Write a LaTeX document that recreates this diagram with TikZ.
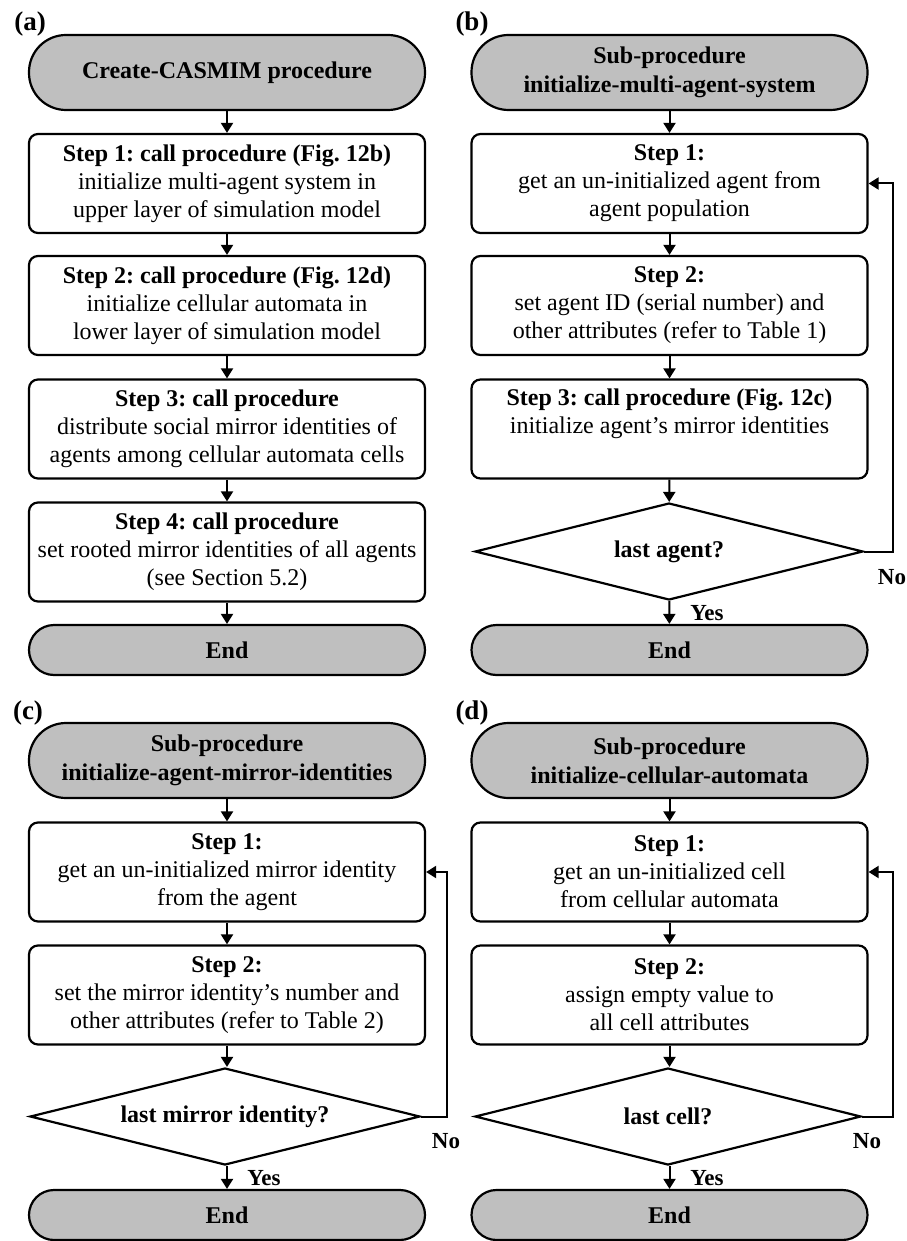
\documentclass[tikz,border=0pt]{standalone}
\usepackage{fontspec}
\setmainfont{Liberation Serif}
\frenchspacing
\usetikzlibrary{shapes.geometric,arrows.meta}
\begin{document}
\begin{tikzpicture}[x=1pt,y=-1pt,
  every node/.style={font=\fontsize{24}{28}\selectfont},
  term/.style={draw,line width=2.2pt,fill=gray!50,rounded corners=37pt,minimum width=396pt,minimum height=75pt,align=center,inner sep=2pt,font=\fontsize{24}{29}\selectfont\bfseries},
  termend/.style={draw,line width=2.2pt,fill=gray!50,rounded corners=25pt,minimum width=396pt,minimum height=50pt,align=center,inner sep=2pt,font=\fontsize{24}{28}\selectfont\bfseries},
  stepbox/.style={draw,line width=2.2pt,rounded corners=9pt,minimum width=396pt,minimum height=99pt,align=center,inner sep=1pt},
  decision/.style={draw,line width=2.2pt,diamond,aspect=4,minimum width=390pt,minimum height=97pt,inner sep=0pt,font=\fontsize{24}{28}\selectfont\bfseries},
  arr/.style={line width=2pt,-{Triangle[length=10pt,width=12pt]}},
  lbl/.style={font=\fontsize{27}{30}\selectfont\bfseries,inner sep=0pt},
  yn/.style={font=\fontsize{23}{26}\selectfont\bfseries,inner sep=0pt}]
\useasboundingbox (0,0) rectangle (906,1241);

% ---------- (a) ----------
\node[lbl] (la) at (30,24) {(a)};
\node[term] (a0) at (227,72.5) {Create-CASMIM procedure};
\node[stepbox] (a1) at (227,183.5) {\textbf{Step 1: call procedure (Fig. 12b)}\\initialize multi-agent system in\\upper layer of simulation model};
\node[stepbox] (a2) at (227,305.5) {\textbf{Step 2: call procedure (Fig. 12d)}\\initialize cellular automata in\\lower layer of simulation model};
\node[stepbox] (a3) at (227,429) {\textbf{Step 3: call procedure}\\distribute social mirror identities of\\agents among cellular automata cells};
\node[stepbox] (a4) at (227,552) {\textbf{Step 4: call procedure}\\set rooted mirror identities of all agents\\(see Section 5.2)};
\node[termend] (a5) at (227,650) {End};
\draw[arr] (a0) -- (a1);
\draw[arr] (a1) -- (a2);
\draw[arr] (a2) -- (a3);
\draw[arr] (a3) -- (a4);
\draw[arr] (a4) -- (a5);

% ---------- (b) ----------
\node[lbl] (lb) at (472,24) {(b)};
\node[term] (b0) at (669.5,72.5) {Sub-procedure\\initialize-multi-agent-system};
\node[stepbox] (b1) at (669.5,183.5) {\textbf{Step 1:}\\get an un-initialized agent from\\agent population};
\node[stepbox] (b2) at (669.5,305.5) {\textbf{Step 2:}\\set agent ID (serial number) and\\other attributes (refer to Table 1)};
\node[stepbox] (b3) at (669.5,429) {\textbf{Step 3: call procedure (Fig. 12c)}\\initialize agent's mirror identities\\\strut};
\node[decision,minimum width=388pt] (b4) at (669,551.5) {last agent?};
\node[termend] (b5) at (669.5,650) {End};
\coordinate (bfb) at (893,0);
\draw[arr] (b0) -- (b1);
\draw[arr] (b1) -- (b2);
\draw[arr] (b2) -- (b3);
\draw[arr] (b3) -- (b4);
\draw[arr] (b4) -- (b5);
\draw[arr] (b4.east) -- (b4.east -| bfb) |- (b1.east);
\node[yn] (byes) at (707,613) {Yes};
\node[yn] (bno) at (892,577) {No};

% ---------- (c) ----------
\node[lbl] (lc) at (28,713) {(c)};
\node[term] (c0) at (227,760.5) {Sub-procedure\\initialize-agent-mirror-identities};
\node[stepbox] (c1) at (227,872) {\textbf{Step 1:}\\get an un-initialized mirror identity\\from the agent};
\node[stepbox] (c2) at (227,995) {\textbf{Step 2:}\\set the mirror identity's number and\\other attributes (refer to Table 2)};
\node[decision] (c3) at (225,1116.5) {last mirror identity?};
\node[termend] (c4) at (227,1215) {End};
\coordinate (cfb) at (447,0);
\draw[arr] (c0) -- (c1);
\draw[arr] (c1) -- (c2);
\draw[arr] (c2) -- (c3.north -| c2.south);
\draw[arr] (c3.south -| c4.north) -- (c4);
\draw[arr] (c3.east) -- (c3.east -| cfb) |- (c1.east);
\node[yn] (cyes) at (264,1178) {Yes};
\node[yn] (cno) at (446,1141) {No};

% ---------- (d) ----------
\node[lbl] (ld) at (472,713) {(d)};
\node[term] (d0) at (669.5,760.5) {Sub-procedure\\initialize-cellular-automata};
\node[stepbox] (d1) at (669.5,872) {\textbf{Step 1:}\\get an un-initialized cell\\from cellular automata};
\node[stepbox] (d2) at (669.5,995) {\textbf{Step 2:}\\assign empty value to\\all cell attributes};
\node[decision,minimum width=386pt] (d3) at (668,1116.5) {last cell?};
\node[termend] (d4) at (669.5,1215) {End};
\coordinate (dfb) at (893,0);
\draw[arr] (d0) -- (d1);
\draw[arr] (d1) -- (d2);
\draw[arr] (d2) -- (d3.north -| d2.south);
\draw[arr] (d3.south -| d4.north) -- (d4);
\draw[arr] (d3.east) -- (d3.east -| dfb) |- (d1.east);
\node[yn] (dyes) at (707,1178) {Yes};
\node[yn] (dno) at (867,1141) {No};
\end{tikzpicture}
\end{document}
